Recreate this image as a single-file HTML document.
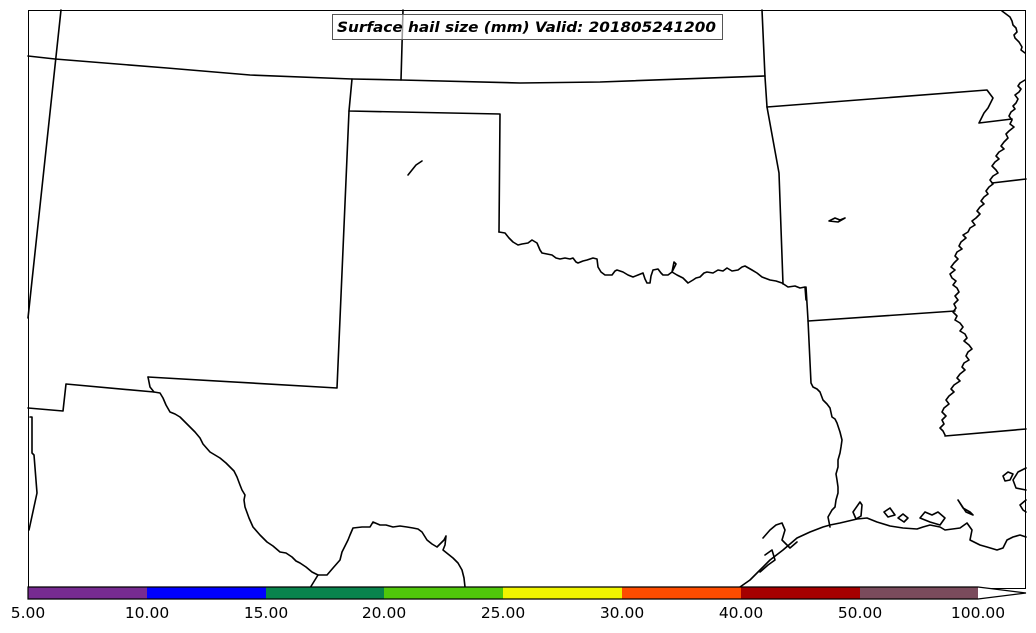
<!DOCTYPE html>
<html><head><meta charset="utf-8"><style>
html,body{margin:0;padding:0;background:#fff;}
svg{display:block;}
</style></head><body>
<svg width="1036" height="633" viewBox="0 0 1036 633" xmlns="http://www.w3.org/2000/svg">
<rect x="0" y="0" width="1036" height="633" fill="#fff"/>
<g fill="none" stroke="#000" stroke-width="1.6" stroke-linejoin="round" stroke-linecap="round">
<!-- NV/UT -->
<path d="M61,10 L28,318"/>
<!-- northern line -->
<path d="M28,56 L55,59 L167,68 L250,75 L352,79 L401,80 L520,83 L600,82 L765,76"/>
<path d="M403,10 L401,80"/>
<path d="M762,10 L765,77 L767,107"/>
<!-- OK panhandle / NM -->
<path d="M352,79 L349,111 L500,114 L499,232"/>
<path d="M349,111 L337,388 L148,377"/>
<path d="M154,392 L66,384 L63,411 L28,408"/>
<path d="M30,417 L32,417 L32,453 L34,455 L37,493 L29,530"/>
<!-- Rio Grande -->
<path d="M148,377 L150,387 L154,392 L160,393 L163,398 L166,405 L170,412 L175,414 L180,417 L185,422 L190,427 L195,432 L200,438 L203,444 L210,452 L215,455 L220,458 L226,463 L230,467 L234,471 L237,477 L240,485 L242,490 L245,495 L244,500 L245,507 L249,518 L253,527 L260,535 L267,542 L273,546 L280,552 L286,553 L292,557 L296,561 L300,563 L306,567 L312,572 L318,575 L327,575 L333,568 L340,560 L342,552 L348,540 L350,535 L353,528 L362,527 L370,527 L373,522 L380,525 L386,525 L393,527 L400,526 L407,527 L413,528 L418,529 L422,532 L427,540 L432,544 L437,547 L441,543 L444,540 L446,536 L445,545 L443,550 L448,554 L453,558 L458,563 L462,570 L464,578 L465,587"/>
<path d="M318,575 L310,588"/>
<!-- Red River -->
<path d="M499,232 L505,233 L509,238 L513,242 L518,245 L522,244 L528,243 L532,240 L537,243 L540,250 L542,253 L547,254 L552,255 L556,258 L560,259 L565,258 L570,259 L573,258 L576,262 L578,263 L583,261 L587,260 L593,258 L597,259 L598,267 L601,272 L605,275 L612,275 L615,271 L617,270 L623,272 L628,275 L633,277 L638,275 L643,273 L645,279 L647,283 L650,283 L651,276 L653,270 L658,269 L661,273 L663,275 L668,275 L672,272 L674,262 L676,264 L672,272 L677,275 L683,278 L688,283 L693,280 L696,278 L700,277 L704,273 L707,272 L713,273 L718,270 L723,271 L727,268 L732,271 L738,270 L742,267 L745,266 L752,270 L757,273 L762,277 L770,280 L776,281 L782,283 L788,287 L795,286 L800,288 L805,287 L806,300"/>
<!-- AR west / TX-LA border -->
<path d="M767,107 L779,173 L783,284"/>
<path d="M806,287 L808,320 L811,383 L813,387 L817,389 L820,392 L823,400 L827,404 L830,408 L832,417 L835,419 L837,423 L840,432 L842,440 L841,447 L840,453 L838,460 L838,467 L836,474 L837,480 L838,487 L838,493 L836,500 L835,507 L832,510 L828,517 L830,527"/>
<!-- MO/AR -->
<path d="M767,107 L987,90 L993,98 L988,108 L984,113 L979,123 L1012,119"/>
<!-- LA/AR -->
<path d="M808,321 L955,311"/>
<!-- AR/MS-TN -->
<path d="M992,183 L1026,179"/>
<path d="M945,436 L1026,429"/>
<!-- Mississippi top -->
<path d="M1002,11 L1006,14 L1010,17 L1012,21 L1013,25 L1016,28 L1017,32 L1014,35 L1015,38 L1019,42 L1022,47 L1021,50 L1025,53"/>
<!-- Mississippi -->
<path d="M1025,80 L1020,83 L1018,86 L1021,89 L1019,92 L1015,95 L1018,99 L1016,103 L1013,106 L1015,109 L1011,112 L1009,116 L1012,120 L1010,124 L1014,127 L1009,131 L1006,134 L1008,138 L1004,142 L1001,146 L1004,149 L999,152 L996,156 L999,159 L995,162 L992,166 L996,170 L998,173 L993,176 L990,180 L993,184 L989,187 L986,191 L988,194 L984,197 L981,201 L984,204 L980,207 L977,211 L980,214 L976,218 L972,221 L975,225 L970,228 L968,232 L963,235 L966,238 L961,242 L959,246 L962,249 L957,252 L955,256 L958,259 L954,263 L951,267 L955,270 L950,274 L952,278 L956,281 L953,285 L957,288 L959,292 L955,296 L958,300 L954,304 L956,308 L953,312 L957,316 L955,320 L960,323 L963,327 L960,331 L965,334 L967,338 L964,341 L969,345 L972,349 L968,352 L966,356 L969,360 L964,363 L962,367 L965,370 L960,374 L957,378 L960,381 L954,385 L951,389 L954,392 L949,396 L946,400 L949,404 L944,408 L942,412 L946,416 L942,420 L944,424 L940,428 L943,431 L945,435"/>
<!-- Gulf coast -->
<path d="M740,587 L750,580 L760,570 L770,560 L783,550 L797,538 L810,532 L823,527 L830,525 L840,523 L857,519 L867,518 L877,522 L890,526 L903,528 L917,529 L923,527 L930,525 L940,527 L945,530 L960,528 L967,523 L972,530 L970,540 L980,545 L987,547 L997,550 L1003,548 L1007,540 L1013,537 L1020,535 L1026,537"/>
<!-- Galveston bay area -->
<path d="M763,538 L770,530 L776,525 L782,523 L785,530 L782,540 L790,548 L797,542"/>
<path d="M765,555 L772,550 L775,560 L768,565 L760,572"/>
<!-- Calcasieu / islands -->
<path d="M856,519 L853,512 L860,502 L862,505 L861,516 Z"/>
<path d="M884,512 L890,508 L895,515 L888,517 Z"/>
<path d="M898,518 L903,514 L908,518 L904,522 Z"/>
<path d="M920,518 L925,512 L932,515 L938,512 L945,518 L940,525 L930,522 Z"/>
<path d="M958,500 L963,508 L970,512 L973,515 L966,512 Z"/>
<path d="M1005,481 L1003,476 L1008,472 L1013,474 L1010,480 Z"/>
<path d="M1026,468 L1018,472 L1013,480 L1016,488 L1026,490"/>
<path d="M1026,500 L1020,505 L1023,510 L1026,512"/>
<!-- small lakes -->
<path d="M408,175 L412,170 L416,165 L422,161"/>
<path d="M829,221 L835,218 L840,220 L845,218 L838,222 Z"/>
</g>
<!-- frame -->
<rect x="28.5" y="10.5" width="997" height="578" fill="none" stroke="#000" stroke-width="1"/>
<!-- title -->
<rect x="332.5" y="14.5" width="390" height="25" fill="#fff" fill-opacity="0.6" stroke="#555" stroke-width="1"/>
<text x="337" y="32" font-family="DejaVu Sans, 'Liberation Sans', sans-serif" font-size="14.5" font-weight="bold" font-style="italic" textLength="379" lengthAdjust="spacingAndGlyphs" fill="#000">Surface hail size (mm) Valid: 201805241200</text>
<!-- colorbar -->
<g>
<rect x="28" y="587" width="119" height="12" fill="#772b91"/>
<rect x="147" y="587" width="119" height="12" fill="#0000ff"/>
<rect x="266" y="587" width="118" height="12" fill="#08834d"/>
<rect x="384" y="587" width="119" height="12" fill="#50c80a"/>
<rect x="503" y="587" width="119" height="12" fill="#f0f500"/>
<rect x="622" y="587" width="119" height="12" fill="#fe4c00"/>
<rect x="741" y="587" width="119" height="12" fill="#a50000"/>
<rect x="860" y="587" width="118" height="12" fill="#7a4b5c"/>
<path d="M978,587 L1026,593 L978,599 Z" fill="#fff"/>
<path d="M28,587 L978,587 L1026,593 L978,599 L28,599 Z" fill="none" stroke="#000" stroke-width="1.2"/>
</g>
<g font-family="DejaVu Sans, 'Liberation Sans', sans-serif" font-size="15.5" fill="#000" text-anchor="middle">
<text x="28" y="618">5.00</text>
<text x="147" y="618">10.00</text>
<text x="266" y="618">15.00</text>
<text x="384" y="618">20.00</text>
<text x="503" y="618">25.00</text>
<text x="622" y="618">30.00</text>
<text x="741" y="618">40.00</text>
<text x="860" y="618">50.00</text>
<text x="978" y="618">100.00</text>
</g>
</svg>
</body></html>
